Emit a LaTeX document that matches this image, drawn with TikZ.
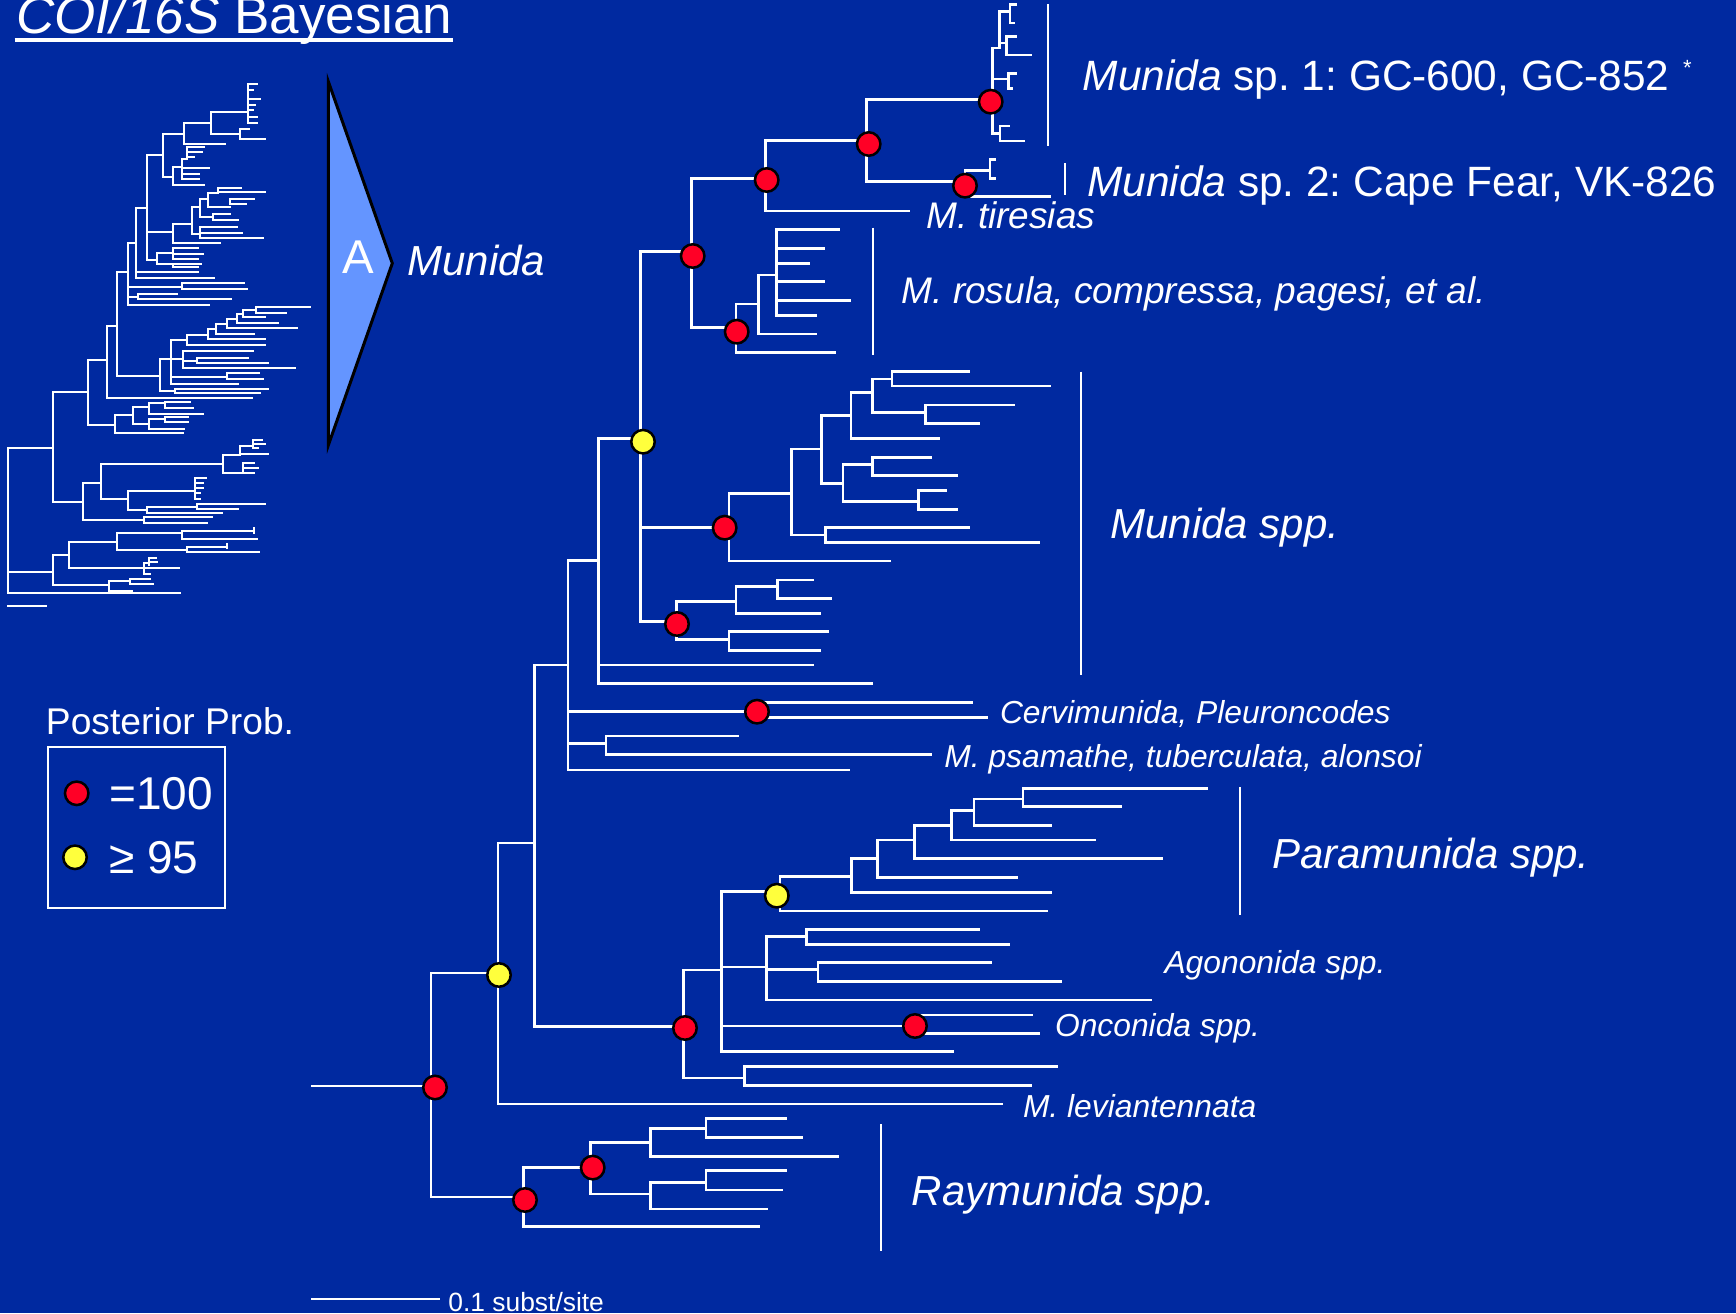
\documentclass[tikz,border=0pt]{standalone}
\usepackage{fontspec}
\setmainfont{Liberation Sans}
\definecolor{bgblue}{RGB}{0,41,160}
\definecolor{dotred}{RGB}{255,0,38}
\definecolor{dotyellow}{RGB}{255,255,60}
\definecolor{triblue}{RGB}{100,149,255}
\newcommand\brV[3]{\draw[br] (#1,#2) -- (#1,#3);}
\newcommand\brH[3]{\draw[br] (#1,#3) -- (#2,#3);}
\AtBeginDocument{\frenchspacing}
\begin{document}
\begin{tikzpicture}[x=0.5pt,y=-0.5pt,
  br/.style={draw=white,line width=1.35pt,line cap=rect},
  barline/.style={draw=white,line width=1pt},
  pp/.style={circle,draw=black,line width=1.25pt,minimum size=11.75pt,inner sep=0pt},
  dotR/.style={pp,fill=dotred},
  dotY/.style={pp,fill=dotyellow},
  lab/.style={anchor=base west,inner sep=0pt,outer sep=0pt,text=white},
  fbig/.style={font=\fontsize{21}{25}\selectfont\itshape},
  fmid/.style={font=\fontsize{18.5}{22}\selectfont\itshape},
  fsmall/.style={font=\fontsize{15.9}{19}\selectfont\itshape},
  fplain/.style={font=\fontsize{21.2}{25}\selectfont}
]
\fill[bgblue] (0,0) rectangle (1736,1313);
\useasboundingbox (0,0) rectangle (1736,1313);

% ---------------- small overview tree ----------------
\begin{scope}[shift={(0pt,-30pt)},x=0.166667pt,y=-0.166667pt,
  br/.style={draw=white,line width=1pt,line cap=rect}]
% Munida sp1 comb
\brV{745}{72}{190}
\brH{745}{770}{72}\brH{745}{760}{90}\brH{745}{780}{118}\brH{745}{765}{135}
\brH{745}{760}{150}\brH{745}{770}{172}\brH{745}{772}{190}
\brH{632}{745}{155}\brV{632}{155}{222}\brH{632}{720}{222}
\brV{720}{208}{238}\brH{720}{748}{208}\brH{720}{795}{238}
\brH{552}{632}{188}\brV{552}{188}{252}\brH{552}{675}{252}
\brH{488}{552}{222}\brV{488}{222}{350}\brH{488}{518}{350}
\brV{518}{322}{375}\brH{518}{612}{375}\brH{518}{545}{322}
\brV{545}{298}{358}\brH{545}{560}{298}\brV{560}{262}{292}
\brH{560}{612}{262}\brH{560}{605}{277}\brH{560}{582}{292}
\brH{545}{628}{325}\brH{545}{598}{342}\brH{545}{598}{358}
\brH{440}{488}{285}\brV{440}{285}{600}
% Munida spp. group
\brH{440}{520}{517}\brV{520}{492}{550}\brH{520}{660}{550}
\brH{520}{575}{492}\brV{575}{440}{522}
\brH{575}{600}{440}\brV{600}{418}{470}
\brH{600}{625}{418}\brV{625}{400}{440}
\brH{625}{655}{400}\brV{655}{385}{397}\brH{655}{722}{385}\brH{655}{795}{397}
\brH{625}{690}{440}\brV{690}{418}{432}\brH{690}{762}{418}\brH{690}{738}{432}
\brH{600}{640}{470}\brV{640}{462}{480}\brH{640}{690}{462}\brH{640}{715}{480}
\brH{575}{600}{522}\brV{600}{500}{535}\brH{600}{712}{500}\brH{600}{725}{518}\brH{600}{788}{535}
\brH{440}{470}{600}\brV{470}{580}{612}
\brH{470}{518}{580}\brV{518}{565}{598}\brH{518}{595}{565}\brH{518}{610}{582}\brH{518}{595}{598}
\brH{470}{518}{612}\brV{518}{612}{622}\brH{518}{603}{612}\brH{518}{595}{622}
\brH{408}{440}{443}\brV{408}{443}{655}\brH{408}{595}{636}\brH{408}{643}{655}
\brH{383}{408}{548}\brV{383}{548}{735}
\brH{383}{545}{680}\brV{545}{670}{687}\brH{545}{732}{670}\brH{545}{740}{687}
\brH{383}{415}{712}\brV{415}{702}{718}\brH{415}{530}{702}\brH{415}{692}{718}
\brH{383}{628}{735}
\brH{350}{383}{635}\brV{350}{635}{948}
% Paramunida etc.
\brH{350}{480}{948}\brV{480}{898}{992}
\brH{480}{512}{898}\brV{512}{840}{972}
\brH{512}{560}{840}\brV{560}{825}{855}\brH{560}{625}{825}\brH{560}{795}{855}
\brV{625}{808}{838}\brH{625}{648}{808}\brH{625}{795}{838}
\brV{648}{792}{822}\brH{648}{680}{792}\brH{648}{762}{822}
\brV{680}{778}{805}\brH{680}{710}{778}\brH{680}{890}{805}
\brV{710}{762}{790}\brH{710}{730}{762}\brH{710}{835}{790}
\brV{730}{750}{772}\brH{730}{768}{750}\brH{730}{795}{772}
\brV{768}{742}{758}\brH{768}{930}{742}\brH{768}{858}{758}
\brH{512}{550}{898}\brV{550}{872}{925}\brH{550}{760}{872}
\brH{550}{590}{902}\brV{590}{895}{910}\brH{590}{745}{895}\brH{590}{805}{910}
\brH{550}{885}{925}
\brH{512}{680}{950}\brV{680}{940}{958}\brH{680}{778}{940}\brH{680}{788}{958}
\brH{512}{715}{972}
\brH{480}{525}{992}\brV{525}{986}{998}\brH{525}{805}{986}\brH{525}{780}{998}
\brH{320}{350}{797}\brV{320}{797}{1015}\brH{320}{755}{1015}
% Raymunida-like
\brH{265}{320}{900}\brV{265}{900}{1095}
\brH{265}{345}{1095}\brV{345}{1065}{1118}
\brH{345}{400}{1065}\brV{400}{1040}{1092}
\brH{400}{447}{1040}\brV{447}{1030}{1062}
\brH{447}{495}{1030}\brV{495}{1025}{1045}\brH{495}{570}{1025}\brH{495}{578}{1045}
\brH{447}{610}{1062}
\brH{400}{447}{1092}\brV{447}{1078}{1108}
\brH{447}{495}{1078}\brV{495}{1070}{1086}\brH{495}{563}{1070}\brH{495}{563}{1086}
\brH{447}{553}{1108}
\brH{345}{548}{1118}
% lower part
\brH{160}{265}{997}\brV{160}{997}{1325}
\brH{160}{248}{1325}\brV{248}{1270}{1380}
\brH{248}{303}{1270}\brV{303}{1212}{1318}
\brH{303}{670}{1212}\brV{670}{1185}{1238}
\brH{670}{720}{1185}\brV{720}{1158}{1182}
\brH{720}{760}{1158}\brV{760}{1140}{1165}
\brH{760}{785}{1140}\brH{760}{795}{1152}\brH{760}{775}{1165}
\brH{720}{803}{1182}
\brH{670}{730}{1238}\brV{730}{1210}{1238}
\brH{730}{762}{1210}\brH{730}{775}{1224}\brH{730}{762}{1238}
\brH{303}{383}{1318}\brV{383}{1292}{1350}
\brH{383}{585}{1292}\brV{585}{1255}{1318}
\brH{585}{618}{1255}\brH{585}{610}{1270}\brH{585}{610}{1285}\brH{585}{600}{1300}\brH{585}{600}{1318}
\brH{383}{440}{1350}\brV{440}{1342}{1358}
\brH{440}{590}{1342}\brV{590}{1332}{1348}\brH{590}{795}{1332}\brH{590}{715}{1348}
\brH{440}{665}{1358}
\brH{248}{432}{1380}\brV{432}{1372}{1390}\brH{432}{635}{1372}\brH{432}{620}{1390}
% root
\brH{25}{160}{1165}\brV{25}{1165}{1598}
\brH{25}{160}{1535}\brV{160}{1485}{1575}
\brH{160}{207}{1485}\brV{207}{1445}{1525}
\brH{207}{352}{1445}\brV{352}{1420}{1470}
\brH{352}{545}{1420}\brV{545}{1412}{1437}
\brH{545}{763}{1412}\brV{763}{1405}{1420}\brH{545}{770}{1437}
\brH{352}{560}{1470}\brV{560}{1460}{1477}
\brH{560}{680}{1460}\brV{680}{1452}{1465}\brH{560}{778}{1477}
\brH{207}{432}{1525}\brV{432}{1508}{1542}
\brH{432}{448}{1508}\brV{448}{1495}{1515}\brH{448}{468}{1495}\brH{448}{470}{1505}
\brH{432}{538}{1525}\brH{432}{450}{1542}
\brH{160}{328}{1575}\brV{328}{1562}{1592}
\brH{328}{390}{1562}\brV{390}{1558}{1572}\brH{390}{450}{1558}\brH{390}{458}{1572}
\brH{328}{395}{1592}
\brH{25}{540}{1598}
% scale bar
\brH{25}{138}{1637}
\end{scope}

% ---------------- triangle and title ----------------
\draw[fill=triblue,draw=black,line width=1.5pt] (328.4,81.7) -- (392.3,263.3) -- (328.4,445) -- cycle;
\node[lab,anchor=base,font=\fontsize{23.7}{27}\selectfont] (tA) at (357.9,273.3) {A};
\node[lab,fbig] (tMunida) at (407.6,275) {Munida};
\node[lab,font=\fontsize{26.5}{30}\selectfont] (title) at (16.5,33.3) {\textit{COI/16S} Bayesian};
\draw[white,line width=1.65pt] (14.5,40) -- (452.7,40);

% ---------------- main tree ----------------
% root
\brH{312.5}{431}{1086}
\brV{431}{973}{1197}
\brH{431}{498}{973}
\brV{498}{843}{1104}
\brH{498}{1002}{1104}
\brH{498}{534.5}{843}
\brV{534.5}{665}{1026.5}
\brH{534.5}{568}{665}
\brV{568}{560.7}{770}
\brH{568}{849}{770}
\brH{568}{606}{743.3}\brV{606}{736}{754.3}\brH{606}{737.7}{736}\brH{606}{930.7}{754.3}
\brH{568}{757}{711.7}\brV{757}{702.3}{717.3}\brH{757}{972}{702.3}\brH{757}{986.8}{717.3}
\brH{568}{598.4}{560.7}\brV{598.4}{438.3}{683.3}
\brH{598.4}{812.5}{665}\brH{598.4}{872.1}{683.3}
\brH{598.4}{640.5}{438.3}\brV{640.5}{251.7}{621.7}
% lower Munida spp. group
\brH{640.5}{676.3}{621.7}\brV{676.3}{601.7}{639.3}
\brH{676.3}{736}{601.7}\brV{736}{586.7}{613.3}
\brH{736}{777.4}{586.7}\brV{777.4}{580}{598.3}\brH{777.4}{812.5}{580}\brH{777.4}{830.7}{598.3}
\brH{736}{819.5}{613.3}
\brH{676.3}{729}{639.3}\brV{729}{631.7}{650.7}\brH{729}{827.2}{631.7}\brH{729}{819.5}{650.7}
% upper Munida spp. group
\brH{640.5}{729}{527.7}\brV{729}{493.3}{561}\brH{729}{889.6}{561}
\brH{729}{791.4}{493.3}\brV{791.4}{449}{535}
\brH{791.4}{825.4}{535}\brV{825.4}{527.7}{542.7}\brH{825.4}{968.2}{527.7}\brH{825.4}{1038.8}{542.7}
\brH{791.4}{821.2}{449}\brV{821.2}{415.7}{483.3}
\brH{821.2}{851}{415.7}\brV{851}{392.7}{438.3}\brH{851}{938.4}{438.3}
\brH{851}{872.8}{392.7}\brV{872.8}{379}{412.3}
\brH{872.8}{892}{379}\brV{892}{371.7}{386}\brH{892}{968.2}{371.7}\brH{892}{1050}{386}
\brH{872.8}{925.4}{412.3}\brV{925.4}{405}{423.3}\brH{925.4}{1013.2}{405}\brH{925.4}{978.8}{423.3}
\brH{821.2}{843}{483.3}\brV{843}{464.3}{501.7}
\brH{843}{872.8}{464.3}\brV{872.8}{457.3}{475.7}\brH{872.8}{930.7}{457.3}\brH{872.8}{957}{475.7}
\brH{843}{918.4}{501.7}\brV{918.4}{490.7}{509.3}\brH{918.4}{945.8}{490.7}\brH{918.4}{957}{509.3}
% top clade
\brH{640.5}{691.7}{251.7}\brV{691.7}{178.3}{327.7}
\brH{691.7}{736}{327.7}\brV{736}{304}{352.7}\brH{736}{834.3}{352.7}
\brH{736}{758.3}{304}\brV{758.3}{275}{334}\brH{758.3}{816}{334}
\brH{758.3}{776.7}{275}\brV{776.7}{229.3}{315.7}
\brH{776.7}{838.3}{229.3}\brH{776.7}{823.3}{248.3}\brH{776.7}{808.3}{263.3}
\brH{776.7}{823.3}{281.7}\brH{776.7}{849.3}{300.7}\brH{776.7}{816}{315.7}
\brH{691.7}{765.7}{178.3}\brV{765.7}{140.7}{211}\brH{765.7}{908.3}{211}
\brH{765.7}{866.7}{140.7}\brV{866.7}{99.3}{181.7}
\brH{866.7}{992.7}{99.3}
\brH{866.7}{965}{181.7}\brV{965}{170.7}{196.7}
\brH{965}{990}{170.7}\brV{990}{159.3}{178.3}\brH{990}{994.3}{159.3}\brH{990}{994.3}{178.3}
\brH{965}{1050}{196.7}
% Munida sp. 1 clade
\brV{992.7}{48}{133.3}
\brH{992.7}{999.3}{48}\brV{999.3}{11.7}{48}
\brH{999.3}{1010}{11.7}\brV{1010}{4.5}{23}\brH{1010}{1016}{4.5}\brH{1010}{1014}{23}
\brH{999.3}{1006.7}{43}\brV{1006.7}{36.7}{55}\brH{1006.7}{1016}{36.7}\brH{1006.7}{1030.7}{55}
\brH{992.7}{1008.3}{79}\brV{1008.3}{73.3}{88.3}\brH{1008.3}{1016}{73.3}\brH{1008.3}{1012}{88.3}
\brH{992.7}{1000}{133.3}\brV{1000}{126}{141}\brH{1000}{1008.3}{126}\brH{1000}{1023.3}{141}
% Agononida / Onconida / Paramunida
\brH{534.5}{683.5}{1026.5}
\brV{683.5}{970}{1078}
\brH{683.5}{744.7}{1078}\brV{744.7}{1066.7}{1085.5}\brH{744.7}{1057}{1066.7}\brH{744.7}{1031}{1085.5}
\brH{683.5}{721.7}{970}\brV{721.7}{891.7}{1051.7}
\brH{721.7}{780}{891.7}\brV{780}{876.7}{911}\brH{780}{1046.6}{911}
\brH{780}{851.4}{876.7}\brV{851.4}{858.3}{892.7}\brH{851.4}{1050.4}{892.7}
\brH{851.4}{877.5}{858.3}\brV{877.5}{840}{877.7}\brH{877.5}{1016.4}{877.7}
\brH{877.5}{914.6}{840}\brV{914.6}{825.7}{858.7}\brH{914.6}{1161.4}{858.7}
\brH{914.6}{951.3}{825.7}\brV{951.3}{810.7}{840}\brH{951.3}{1094.4}{840}
\brH{951.3}{973.9}{810.7}\brV{973.9}{799}{825.7}\brH{973.9}{1050.4}{825.7}
\brH{973.9}{1022.9}{799}\brV{1022.9}{788.3}{806.7}\brH{1022.9}{1206.4}{788.3}\brH{1022.9}{1120.5}{806.7}
\brH{721.7}{766.5}{967}\brV{766.5}{936.7}{1000}\brH{766.5}{1150.3}{1000}
\brH{766.5}{806.7}{936.7}\brV{806.7}{929.3}{944.3}\brH{806.7}{978.9}{929.3}\brH{806.7}{1008.7}{944.3}
\brH{766.5}{818}{969.5}\brV{818}{962.7}{981.7}\brH{818}{990.4}{962.7}\brH{818}{1061}{981.7}
\brH{721.7}{915}{1026}\brV{919}{1015}{1033.3}\brH{919}{1031.3}{1015}\brH{919}{1039}{1033.3}
\brH{721.7}{952.8}{1051.7}
% Raymunida
\brH{431}{525}{1197}
\brV{523.8}{1167.6}{1226.8}\brH{523.8}{759}{1226.8}
\brH{523.8}{592.7}{1167.6}\brV{590.8}{1142.5}{1194}
\brH{590.8}{650.4}{1142.5}\brV{650.4}{1128.8}{1156.5}\brH{650.4}{838}{1156.5}
\brH{650.4}{706}{1128.8}\brV{706}{1118.8}{1137.8}\brH{706}{786}{1118.8}\brH{706}{801.2}{1137.8}
\brH{590.8}{650.4}{1194}\brV{650.4}{1182.7}{1208.9}\brH{650.4}{766.8}{1208.9}
\brH{650.4}{706}{1182.7}\brV{706}{1170.8}{1189.9}\brH{706}{786}{1170.8}\brH{706}{782}{1189.9}
% scale bar
\brH{312.5}{438.8}{1299}

% clade bars
\draw[barline] (1048.3,4) -- (1048.3,146);
\draw[barline] (1064.5,163.3) -- (1064.5,195);
\draw[barline] (872.7,227.7) -- (872.7,355);
\draw[barline] (1080.5,371.7) -- (1080.5,675);
\draw[barline] (1240.3,787) -- (1240.3,915);
\draw[barline] (880.7,1124) -- (880.7,1250.7);

% posterior probability dots
\node[dotR] (d1) at (435,1087.5) {};
\node[dotY] (d2) at (499,975) {};
\node[dotR] (d3) at (685,1028) {};
\node[dotY] (d4) at (776.8,895.7) {};
\node[dotR] (d5) at (915,1026) {};
\node[dotR] (d6) at (525,1200) {};
\node[dotR] (d7) at (592.7,1167.6) {};
\node[dotR] (d8) at (757,711.7) {};
\node[dotY] (d9) at (643,441.7) {};
\node[dotR] (d10) at (724.7,527.7) {};
\node[dotR] (d11) at (677,624) {};
\node[dotR] (d12) at (692.7,256) {};
\node[dotR] (d13) at (736.7,331.7) {};
\node[dotR] (d14) at (766.7,180) {};
\node[dotR] (d15) at (868.7,144) {};
\node[dotR] (d16) at (990.7,101.7) {};
\node[dotR] (d17) at (965,185.7) {};

% labels
\node[lab,fplain] (l1) at (1082.8,90) {\textit{Munida} sp. 1: GC-600, GC-852};
\node[lab,font=\fontsize{11}{13}\selectfont] (l1s) at (1683,75) {*};
\node[lab,fplain] (l2) at (1087.2,196.7) {\textit{Munida} sp. 2: Cape Fear, VK-826};
\node[lab,fmid] (l3) at (926.7,228.3) {M. tiresias};
\node[lab,fmid] (l4) at (901.7,303.3) {M. rosula, compressa, pagesi, et al.};
\node[lab,fbig] (l5) at (1110.5,538.6) {Munida spp.};
\node[lab,fsmall] (l6) at (1000,723.3) {Cervimunida, Pleuroncodes};
\node[lab,fsmall] (l7) at (944.4,767.3) {M. psamathe, tuberculata, alonsoi};
\node[lab,fbig] (l8) at (1272,868.3) {Paramunida spp.};
\node[lab,fsmall] (l9) at (1164.5,973) {Agononida spp.};
\node[lab,fsmall] (l10) at (1055,1036.7) {Onconida spp.};
\node[lab,fsmall] (l11) at (1023,1117.3) {M. leviantennata};
\node[lab,fbig] (l12) at (911.7,1205) {Raymunida spp.};
\node[lab,font=\fontsize{13.2}{15}\selectfont] (l13) at (448.4,1311) {0.1 subst/site};

% legend
\node[lab,font=\fontsize{18.6}{22}\selectfont] (lgT) at (46,734.3) {Posterior Prob.};
\draw[white,line width=1pt] (47.7,746.7) rectangle (225.3,908.3);
\node[dotR] (lgR) at (76.7,793.3) {};
\node[dotY] (lgY) at (75,857.3) {};
\node[lab,font=\fontsize{23}{27}\selectfont] (lg1) at (109.3,809.3) {=100};
\node[lab,font=\fontsize{23}{27}\selectfont] (lg2) at (109.3,873.3) {≥ 95};
\end{tikzpicture}
\end{document}
